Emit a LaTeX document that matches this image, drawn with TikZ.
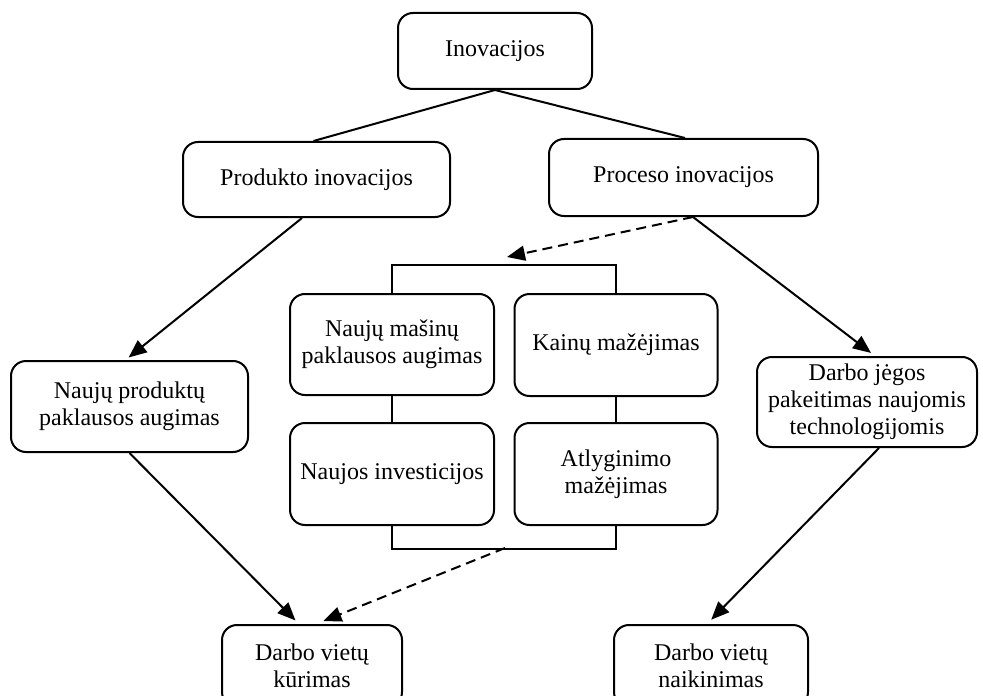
\documentclass[tikz,border=0pt]{standalone}
\usepackage{fontspec}
\setmainfont{Liberation Serif}
\usetikzlibrary{arrows.meta}
\begin{document}
\begin{tikzpicture}[x=0.5pt,y=-0.5pt,
  box/.style={draw, line width=1pt, rounded corners=7.5pt, inner sep=0pt, align=center,
    font=\fontsize{12}{13.6}\selectfont},
  conn/.style={line width=1pt},
  arr/.style={line width=1pt, -{Triangle[length=9pt,width=7.5pt]}},
  darr/.style={arr, dash pattern=on 5pt off 3pt}]
\useasboundingbox (0,0) rectangle (983,695);
\clip (0,0) rectangle (983,695);
\node[box, minimum width=97pt, minimum height=38pt] (ino) at (495,51) {Inovacijos};
\node[box, minimum width=133.5pt, minimum height=37.5pt] (prod) at (316.5,179.5) {Produkto inovacijos};
\node[box, minimum width=134.5pt, minimum height=38.5pt] (proc) at (683.5,177.5) {Proceso inovacijos};
\node[box, minimum width=118.5pt, minimum height=45.5pt] (nprod) at (129.5,406.5) {Naujų produktų\\paklausos augimas};
\node[box, minimum width=102pt, minimum height=50.5pt] (mas) at (392,344.5) {Naujų mašinų\\paklausos augimas};
\node[box, minimum width=101.5pt, minimum height=51pt] (kain) at (616,345) {Kainų mažėjimas};
\node[box, minimum width=102pt, minimum height=51pt] (inv) at (392,474) {Naujos investicijos};
\node[box, minimum width=101.5pt, minimum height=51pt] (atl) at (616,474) {Atlyginimo\\mažėjimas};
\node[box, minimum width=110pt, minimum height=45pt] (djeg) at (867,402) {Darbo jėgos\\pakeitimas naujomis\\technologijomis};
\node[box, minimum width=90pt, minimum height=41pt] (kur) at (312,666) {Darbo vietų\\kūrimas};
\node[box, minimum width=97pt, minimum height=41pt] (naik) at (711,666) {Darbo vietų\\naikinimas};
% tree lines
\draw[conn] (ino.south) -- ([xshift=-1.5pt]prod.north);
\draw[conn] (ino.south) -- ([xshift=0.75pt]proc.north);
% bracket
\draw[conn] (mas.north) -- ++(0,-28) -| (kain.north);
\draw[conn] (mas.south) -- (inv.north);
\draw[conn] (kain.south) -- (atl.north);
\draw[conn] (inv.south) -- ++(0,23) coordinate (bl) -| (atl.south);
\coordinate (btop) at (507,257);
\coordinate (bbot) at (505,548);
% arrows
\draw[arr, shorten >=2pt] ([xshift=-7.25pt]prod.south) -- ([xshift=-2pt]nprod.north);
\draw[arr, shorten >=2.5pt] ([xshift=4.75pt]proc.south) -- ([xshift=4pt]djeg.north);
\draw[darr] ([xshift=4.75pt]proc.south) -- (btop);
\draw[arr, shorten >=2.5pt] (nprod.south) -- ([xshift=-6.5pt]kur.north);
\draw[darr, shorten >=4pt] (bbot) -- ([xshift=2pt]kur.north);
\draw[arr, shorten >=3pt] ([xshift=6pt]djeg.south) -- ([xshift=-2pt]naik.north);
\end{tikzpicture}
\end{document}
